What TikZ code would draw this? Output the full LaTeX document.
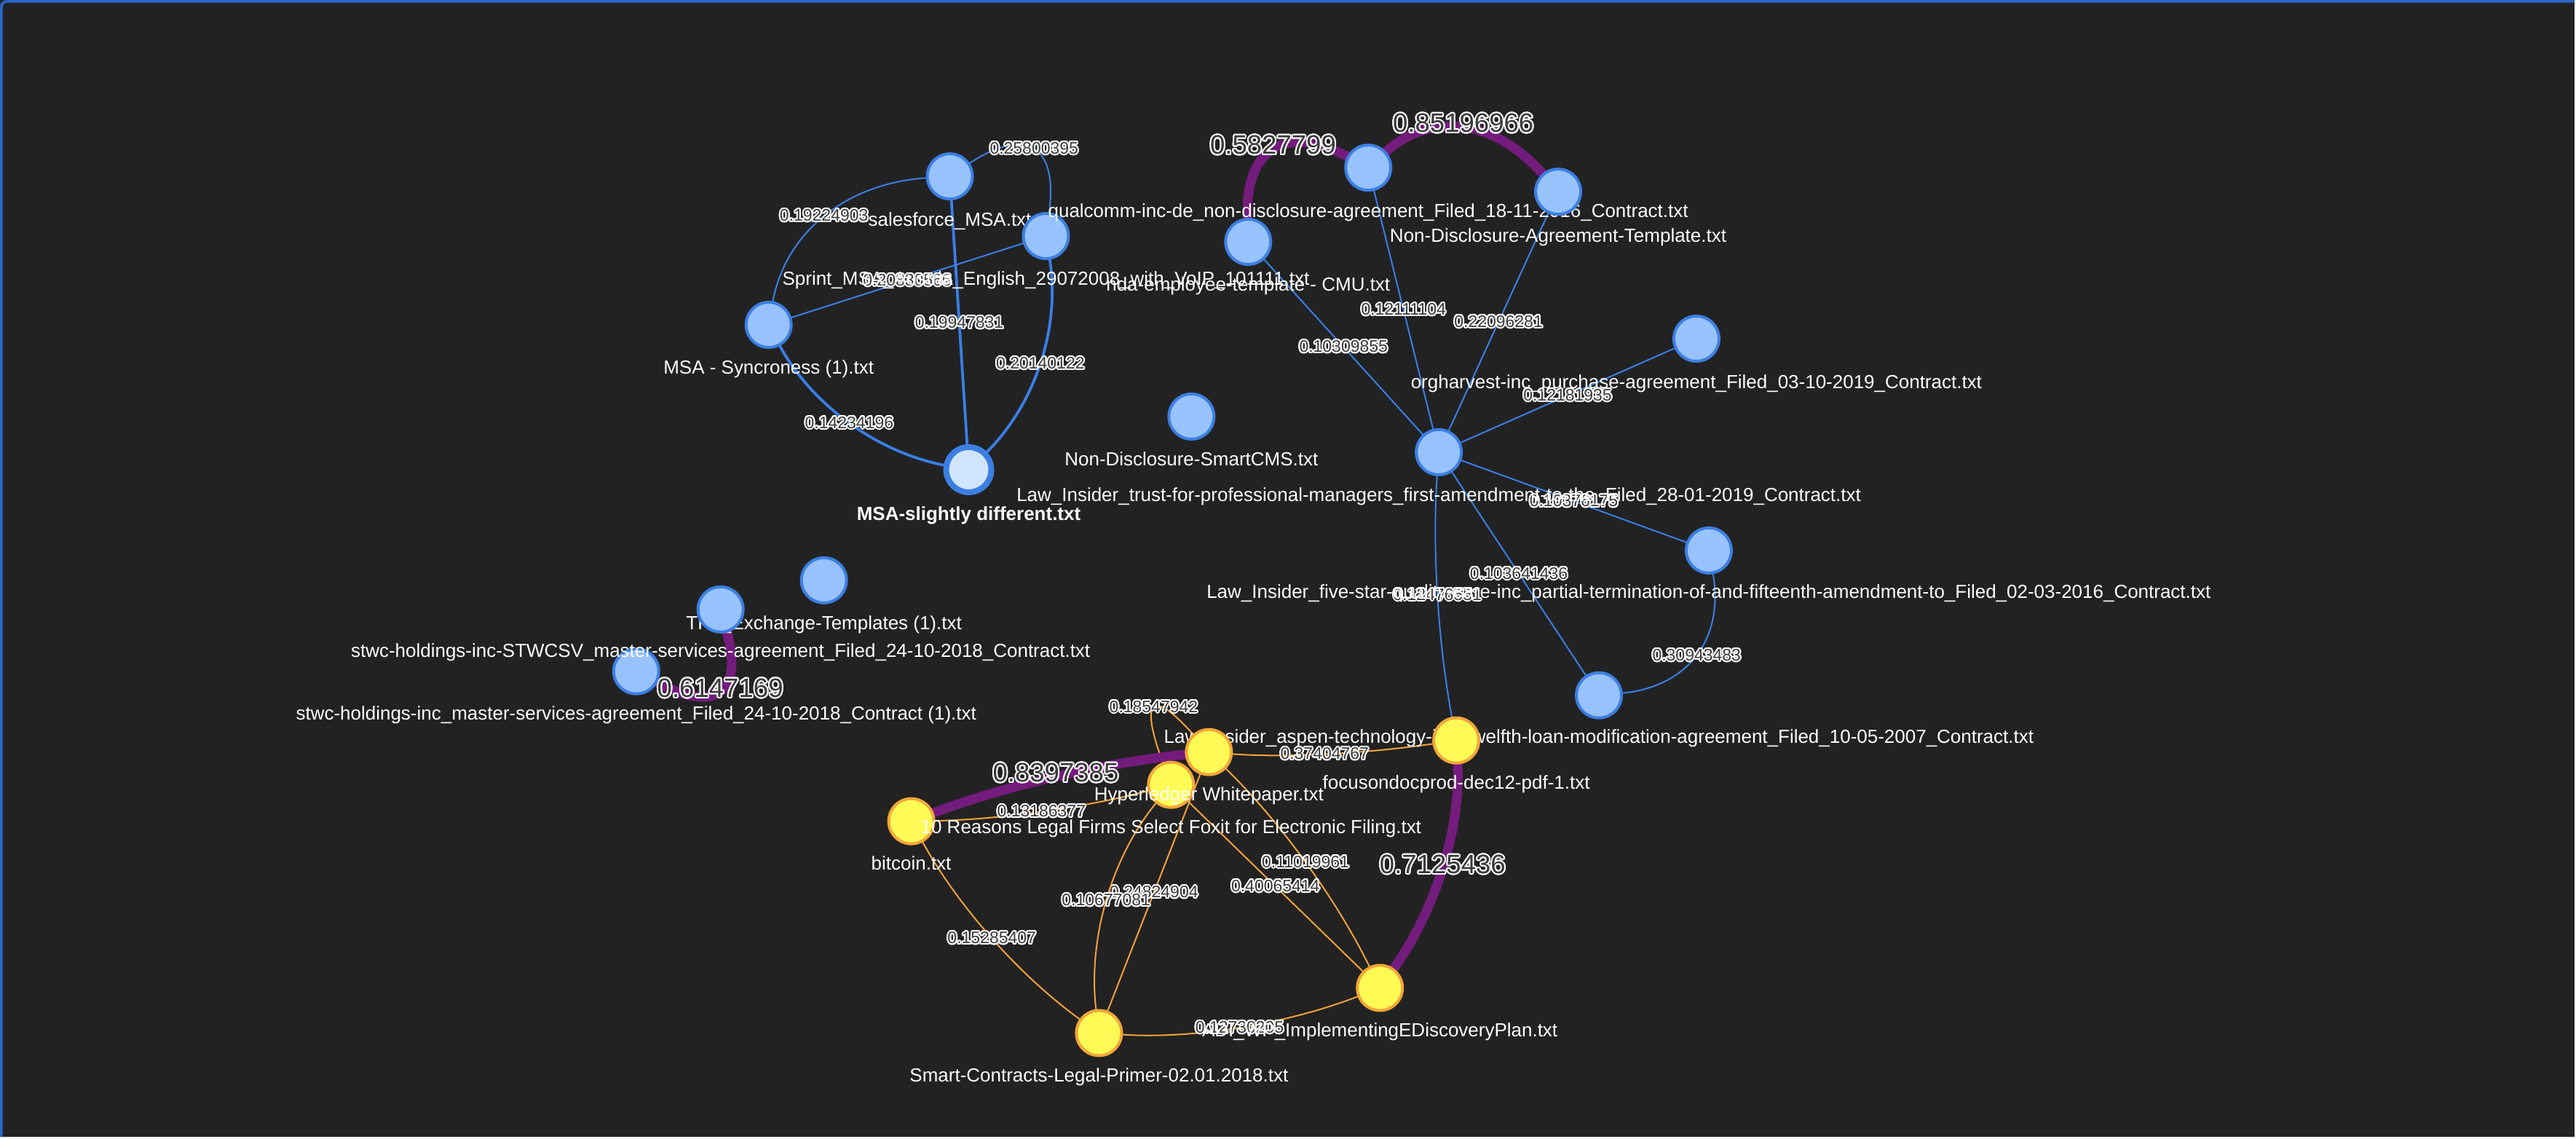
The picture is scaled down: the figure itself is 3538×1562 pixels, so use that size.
\documentclass[tikz,border=0pt]{standalone}
\usepackage{fontspec}
\setmainfont{Liberation Sans}
\usepackage{contour}
\contourlength{1pt}
\usetikzlibrary{calc}
\definecolor{bg}{HTML}{222222}
\definecolor{frameblue}{HTML}{2A66C9}
\definecolor{nblue}{HTML}{97C2FC}
\definecolor{nblueb}{HTML}{3C7FE3}
\definecolor{nsel}{HTML}{D2E5FF}
\definecolor{nyel}{HTML}{FFFA55}
\definecolor{nyelb}{HTML}{F5A63A}
\definecolor{eblue}{HTML}{3A7FE6}
\definecolor{eorange}{HTML}{F2A23A}
\definecolor{epurple}{HTML}{741C7D}
\definecolor{labdark}{HTML}{3A3A3A}
\pgfdeclarelayer{bglayer}
\pgfdeclarelayer{edges}
\pgfsetlayers{bglayer,edges,main}
\newcommand\ct[1]{\contour{white}{#1}}
\newcommand\qe[5][]{\draw[#1] (#2) .. controls ($(#2)!0.6667!(#4)$) and ($(#3)!0.6667!(#4)$) .. (#3) node[elab]{\ct{#5}};}
\newcommand\qeb[5][]{\draw[#1] (#2) .. controls ($(#2)!0.6667!(#4)$) and ($(#3)!0.6667!(#4)$) .. (#3) node[elabbig]{\ct{#5}};}
\begin{document}
\begin{tikzpicture}[x=0.5pt,y=-0.5pt,
  bn/.style={circle,minimum size=31pt,inner sep=0pt,outer sep=0pt,draw=nblueb,fill=nblue,line width=2pt},
  sn/.style={circle,minimum size=31pt,inner sep=0pt,outer sep=0pt,draw=nblueb,fill=nsel,line width=4pt},
  yn/.style={circle,minimum size=31pt,inner sep=0pt,outer sep=0pt,draw=nyelb,fill=nyel,line width=2pt},
  nlab/.style={text=white,font=\fontsize{13}{15}\selectfont,inner sep=0pt,text height=0.72em,text depth=0.2em},
  elab/.style={pos=.5,text=labdark,font=\fontsize{11.5}{13}\selectfont,inner sep=0pt,text height=0.72em,text depth=0em},
  elabbig/.style={pos=.5,text=labdark,font=\fontsize{18.3}{20}\selectfont,inner sep=0pt,text height=0.72em,text depth=0em},
  bedge/.style={draw=eblue,line width=1pt},
  bmedge/.style={draw=eblue,line width=1.9pt},
  oedge/.style={draw=eorange,line width=1pt},
  pedge/.style={draw=epurple,line width=6.5pt},
  frame/.style={draw=frameblue,line width=1.8pt,rounded corners=4pt}]
\begin{pgfonlayer}{bglayer}
\fill[bg] (0,0) rectangle (3538,1562);
\draw[frame] (1.5,1562) -- (1.5,1.5) -- (3538,1.5);
\end{pgfonlayer}
\useasboundingbox (0,0) rectangle (3538,1562);
% nodes with their labels, in drawing order
\node[bn] (sf) at (1305,242) {};
\node[nlab] (sfl) at ($(sf)+(0,63)$) {salesforce\_MSA.txt};
\node[bn] (sp) at (1437,324) {};
\node[nlab] (spl) at ($(sp)+(0,62)$) {Sprint\_MSA\_Austria\_English\_29072008\_with\_VoIP\_101111.txt};
\node[bn] (sy) at (1056,446) {};
\node[nlab] (syl) at ($(sy)+(0,62)$) {MSA - Syncroness (1).txt};
\node[bn] (nda) at (1715,332) {};
\node[nlab] (ndal) at ($(nda)+(0,62)$) {nda-employee-template - CMU.txt};
\node[bn] (qc) at (1880,230) {};
\node[nlab] (qcl) at ($(qc)+(0,63)$) {qualcomm-inc-de\_non-disclosure-agreement\_Filed\_18-11-2016\_Contract.txt};
\node[bn] (ndt) at (2141,263) {};
\node[nlab] (ndtl) at ($(ndt)+(0,64)$) {Non-Disclosure-Agreement-Template.txt};
\node[bn] (org) at (2331,465) {};
\node[nlab] (orgl) at ($(org)+(0,63)$) {orgharvest-inc\_purchase-agreement\_Filed\_03-10-2019\_Contract.txt};
\node[bn] (smc) at (1637,572) {};
\node[nlab] (smcl) at ($(smc)+(0,62)$) {Non-Disclosure-SmartCMS.txt};
\node[bn] (fs) at (2348,756) {};
\node[nlab] (fsl) at ($(fs)+(0,60)$) {Law\_Insider\_five-star-quality-care-inc\_partial-termination-of-and-fifteenth-amendment-to\_Filed\_02-03-2016\_Contract.txt};
\node[bn] (hub) at (1977,621) {};
\node[nlab] (hubl) at ($(hub)+(0,62)$) {Law\_Insider\_trust-for-professional-managers\_first-amendment-to-the\_Filed\_28-01-2019\_Contract.txt};
\node[bn] (asp) at (2197,955) {};
\node[nlab] (aspl) at ($(asp)+(0,61)$) {Law\_Insider\_aspen-technology-inc\_twelfth-loan-modification-agreement\_Filed\_10-05-2007\_Contract.txt};
\node[yn] (fo) at (2001,1017) {};
\node[nlab] (fol) at ($(fo)+(0,62)$) {focusondocprod-dec12-pdf-1.txt};
\node[bn] (tpl) at (1132,797) {};
\node[nlab] (tpll) at ($(tpl)+(0,63)$) {TPL\_Exchange-Templates (1).txt};
\node[bn] (st2) at (874,922) {};
\node[nlab] (st2l) at ($(st2)+(0,62)$) {stwc-holdings-inc\_master-services-agreement\_Filed\_24-10-2018\_Contract (1).txt};
\node[bn] (st1) at (990,837) {};
\node[nlab] (st1l) at ($(st1)+(0,61)$) {stwc-holdings-inc-STWCSV\_master-services-agreement\_Filed\_24-10-2018\_Contract.txt};
\node[yn] (bit) at (1252,1128) {};
\node[nlab] (bitl) at ($(bit)+(0,62)$) {bitcoin.txt};
\node[yn] (smt) at (1510,1419) {};
\node[nlab] (smtl) at ($(smt)+(0,62)$) {Smart-Contracts-Legal-Primer-02.01.2018.txt};
\node[yn] (adi) at (1896,1357) {};
\node[nlab] (adil) at ($(adi)+(0,62)$) {ADI\_WP\_ImplementingEDiscoveryPlan.txt};
\node[yn] (ten) at (1609,1078) {};
\node[nlab] (tenl) at ($(ten)+(0,62)$) {10 Reasons Legal Firms Select Foxit for Electronic Filing.txt};
\node[yn] (hy) at (1661,1033) {};
\node[nlab] (hyl) at ($(hy)+(0,62)$) {Hyperledger Whitepaper.txt};
\node[sn] (ms) at (1331,645) {};
\node[nlab,font=\fontsize{13}{15}\selectfont\bfseries] (msl) at ($(ms)+(0,64)$) {MSA-slightly different.txt};
% edges
\begin{pgfonlayer}{edges}
% MSA cluster
\qe[bedge]{sf}{sp}{1463,137}{0.25800395}
\qe[bedge]{sf}{sy}{1090,256}{0.19224903}
\draw[bedge] (sp) -- (sy) node[elab]{\ct{0.20830566}};
\draw[bmedge] (sf) -- (ms) node[elab]{\ct{0.19947831}};
\qe[bmedge]{sp}{ms}{1468,512}{0.20140122}
\qe[bmedge]{sy}{ms}{1144,611}{0.14234196}
% NDA / Law Insider cluster
\qeb[pedge]{nda}{qc}{1708,139}{0.5827799}
\qeb[pedge]{qc}{ndt}{2010,113}{0.85196966}
\draw[bedge] (hub) -- (nda) node[elab]{\ct{0.10309855}};
\draw[bedge] (hub) -- (qc) node[elab]{\ct{0.12111104}};
\draw[bedge] (hub) -- (ndt) node[elab]{\ct{0.22096281}};
\draw[bedge] (hub) -- (org) node[elab]{\ct{0.12181935}};
\draw[bedge] (hub) -- (fs) node[elab]{\ct{0.10376175}};
\draw[bedge] (hub) -- (asp) node[elab]{\ct{0.103641436}};
\qe[bedge]{hub}{fo}{1963,815}{0.12476551}
\qe[bedge]{fs}{asp}{2381,938}{0.30943483}
% stwc pair
\qeb[pedge]{st1}{st2}{1038,1010}{0.6147169}
% yellow cluster
\qe[oedge]{bit}{ten}{1431,1125}{0.13186377}
\qe[oedge]{ten}{hy}{1543,900}{0.18547942}
\qe[oedge]{hy}{fo}{1809,1045}{0.37404767}
\qe[oedge]{hy}{adi}{1807,1175}{0.11019961}
\draw[oedge] (ten) -- (adi) node[elab]{\ct{0.40065414}};
\draw[oedge] (hy) -- (smt) node[elab]{\ct{0.24824904}};
\qe[oedge]{ten}{smt}{1486,1227}{0.10677081}
\qe[oedge]{bit}{smt}{1347,1302}{0.15285407}
\qe[oedge]{smt}{adi}{1703,1432}{0.12730205}
\qeb[pedge]{bit}{hy}{1445,1055}{0.8397385}
\qeb[pedge]{fo}{adi}{2011,1197}{0.7125436}
\end{pgfonlayer}
\end{tikzpicture}
\end{document}
